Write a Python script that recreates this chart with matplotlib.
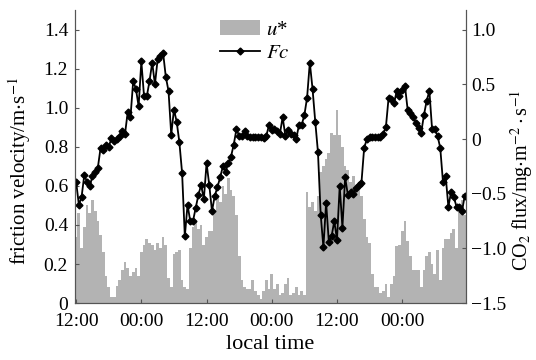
import numpy as np
import matplotlib
matplotlib.use('Agg')
import matplotlib.pyplot as plt
from matplotlib.patches import Patch
from matplotlib.lines import Line2D

plt.rcParams['font.family'] = ['Liberation Serif', 'DejaVu Serif']
plt.rcParams['mathtext.fontset'] = 'stix'

# half-hourly friction velocity u* (m/s), 144 records starting 12:00
u_star = [0.34, 0.46, 0.28, 0.39, 0.50, 0.46, 0.53, 0.47, 0.42, 0.35,
          0.26, 0.14, 0.08, 0.03, 0.03, 0.09, 0.12, 0.17, 0.21, 0.18,
          0.14, 0.16, 0.18, 0.14, 0.26, 0.30, 0.33, 0.31, 0.30, 0.27,
          0.31, 0.28, 0.34, 0.30, 0.13, 0.08, 0.25, 0.26, 0.27, 0.12,
          0.08, 0.07, 0.28, 0.39, 0.42, 0.38, 0.40, 0.30, 0.34, 0.37,
          0.37, 0.46, 0.55, 0.52, 0.60, 0.56, 0.64, 0.58, 0.55, 0.45,
          0.24, 0.12, 0.08, 0.07, 0.07, 0.12, 0.06, 0.04, 0.02, 0.06,
          0.12, 0.07, 0.15, 0.07, 0.10, 0.04, 0.05, 0.10, 0.13, 0.04,
          0.05, 0.08, 0.04, 0.06, 0.04, 0.57, 0.49, 0.52, 0.47, 0.55,
          0.67, 0.70, 0.74, 0.77, 0.87, 0.86, 0.99, 0.86, 0.80, 0.70,
          0.68, 0.62, 0.65, 0.60, 0.58, 0.55, 0.43, 0.34, 0.31, 0.15,
          0.08, 0.08, 0.05, 0.06, 0.10, 0.03, 0.10, 0.14, 0.29, 0.30,
          0.37, 0.42, 0.32, 0.24, 0.17, 0.17, 0.17, 0.08, 0.17, 0.24,
          0.26, 0.20, 0.15, 0.27, 0.12, 0.28, 0.33, 0.33, 0.36, 0.38,
          0.28, 0.50, 0.53, 0.45]

# CO2 flux Fc (mg m-2 s-1)
fc = [-0.39, -0.60, -0.53, -0.33, -0.39, -0.43, -0.34, -0.30, -0.26, -0.08,
      -0.10, -0.05, -0.07, 0.01, -0.02, 0.00, 0.03, 0.07, 0.05, 0.25,
      0.20, 0.53, 0.46, 0.30, 0.71, 0.39, 0.39, 0.53, 0.70, 0.50,
      0.73, 0.76, 0.79, 0.57, 0.44, 0.04, 0.27, 0.16, -0.03, -0.31,
      -0.89, -0.60, -0.75, -0.75, -0.63, -0.51, -0.42, -0.55, -0.22, -0.42,
      -0.66, -0.52, -0.44, -0.35, -0.25, -0.30, -0.22, -0.16, -0.05, 0.09,
      0.03, 0.03, 0.07, 0.03, 0.02, 0.02, 0.02, 0.02, 0.02, 0.01,
      0.03, 0.13, 0.08, 0.09, 0.07, 0.05, 0.20, 0.03, 0.08, 0.05,
      0.04, 0.00, 0.13, 0.13, 0.22, 0.38, 0.70, 0.46, 0.16, -0.12,
      -0.69, -0.99, -0.58, -0.94, -0.89, -0.75, -0.92, -0.43, -0.81, -0.35,
      -0.51, -0.48, -0.50, -0.45, -0.42, -0.40, -0.08, 0.00, 0.02, 0.02,
      0.02, 0.02, 0.02, 0.05, 0.11, 0.38, 0.37, 0.33, 0.44, 0.39,
      0.45, 0.49, 0.27, 0.24, 0.20, 0.15, 0.10, 0.06, 0.22, 0.35,
      0.44, 0.09, 0.09, 0.03, -0.08, -0.39, -0.34, -0.62, -0.48, -0.53,
      -0.62, -0.62, -0.66, -0.52]

tick_labels = ['12:00', '00:00', '12:00', '00:00', '12:00', '00:00']

hours = 0.5 * np.arange(len(u_star))

fig = plt.figure(figsize=(5.36, 3.6), dpi=100)
ax = fig.add_axes([0.140, 0.158, 0.729, 0.814])
ax2 = ax.twinx()

ax.bar(hours, u_star, width=0.5, color='#b3b3b3', linewidth=0)
ax2.plot(hours, fc, color='black', lw=1.3, marker='D', ms=3.5)

ax.set_xlim(-0.2, 71.7)
ax.set_ylim(0, 1.5)
ax2.set_ylim(-1.5, 1.18)

ax.set_xticks(np.arange(0, 72, 12))
ax.set_xticklabels(tick_labels)
ax.set_yticks([0, 0.2, 0.4, 0.6, 0.8, 1.0, 1.2, 1.4])
ax.set_yticklabels(['0', '0.2', '0.4', '0.6', '0.8', '1.0', '1.2', '1.4'])
ax2.set_yticks([-1.5, -1.0, -0.5, 0, 0.5, 1.0])
ax2.set_yticklabels(['\u22121.5', '\u22121.0', '\u22120.5', '0', '0.5', '1.0'])

for a in (ax, ax2):
    a.spines['top'].set_visible(False)
    for s in a.spines.values():
        s.set_color('#555555')
    a.tick_params(direction='in', labelsize=14, length=3, color='#555555')
ax.tick_params(axis='x', pad=7)
ax.tick_params(axis='y', pad=5)
ax2.tick_params(axis='y', pad=4)

ax.set_xlabel('local time', fontsize=16, labelpad=4)
ax.set_ylabel('friction velocity/m$\\cdot$s$^{-1}$', fontsize=15)
ax.yaxis.set_label_coords(-0.108, 0.45)
ax2.set_ylabel('CO$_2$ flux/mg$\\cdot$m$^{-2}\\cdot$s$^{-1}$', fontsize=14.5)
ax2.yaxis.set_label_coords(1.108, 0.42)

handles = [Patch(facecolor='#b3b3b3', edgecolor='none'),
           Line2D([], [], color='black', lw=1.3, marker='D', ms=3.5)]
ax2.legend(handles, ['$u$*', '$Fc$'], loc='upper center', bbox_to_anchor=(0.46, 1.03),
           frameon=False, fontsize=15, handlelength=1.9, labelspacing=0.2,
           handletextpad=0.3)

fig.savefig('out.png', dpi=100)
